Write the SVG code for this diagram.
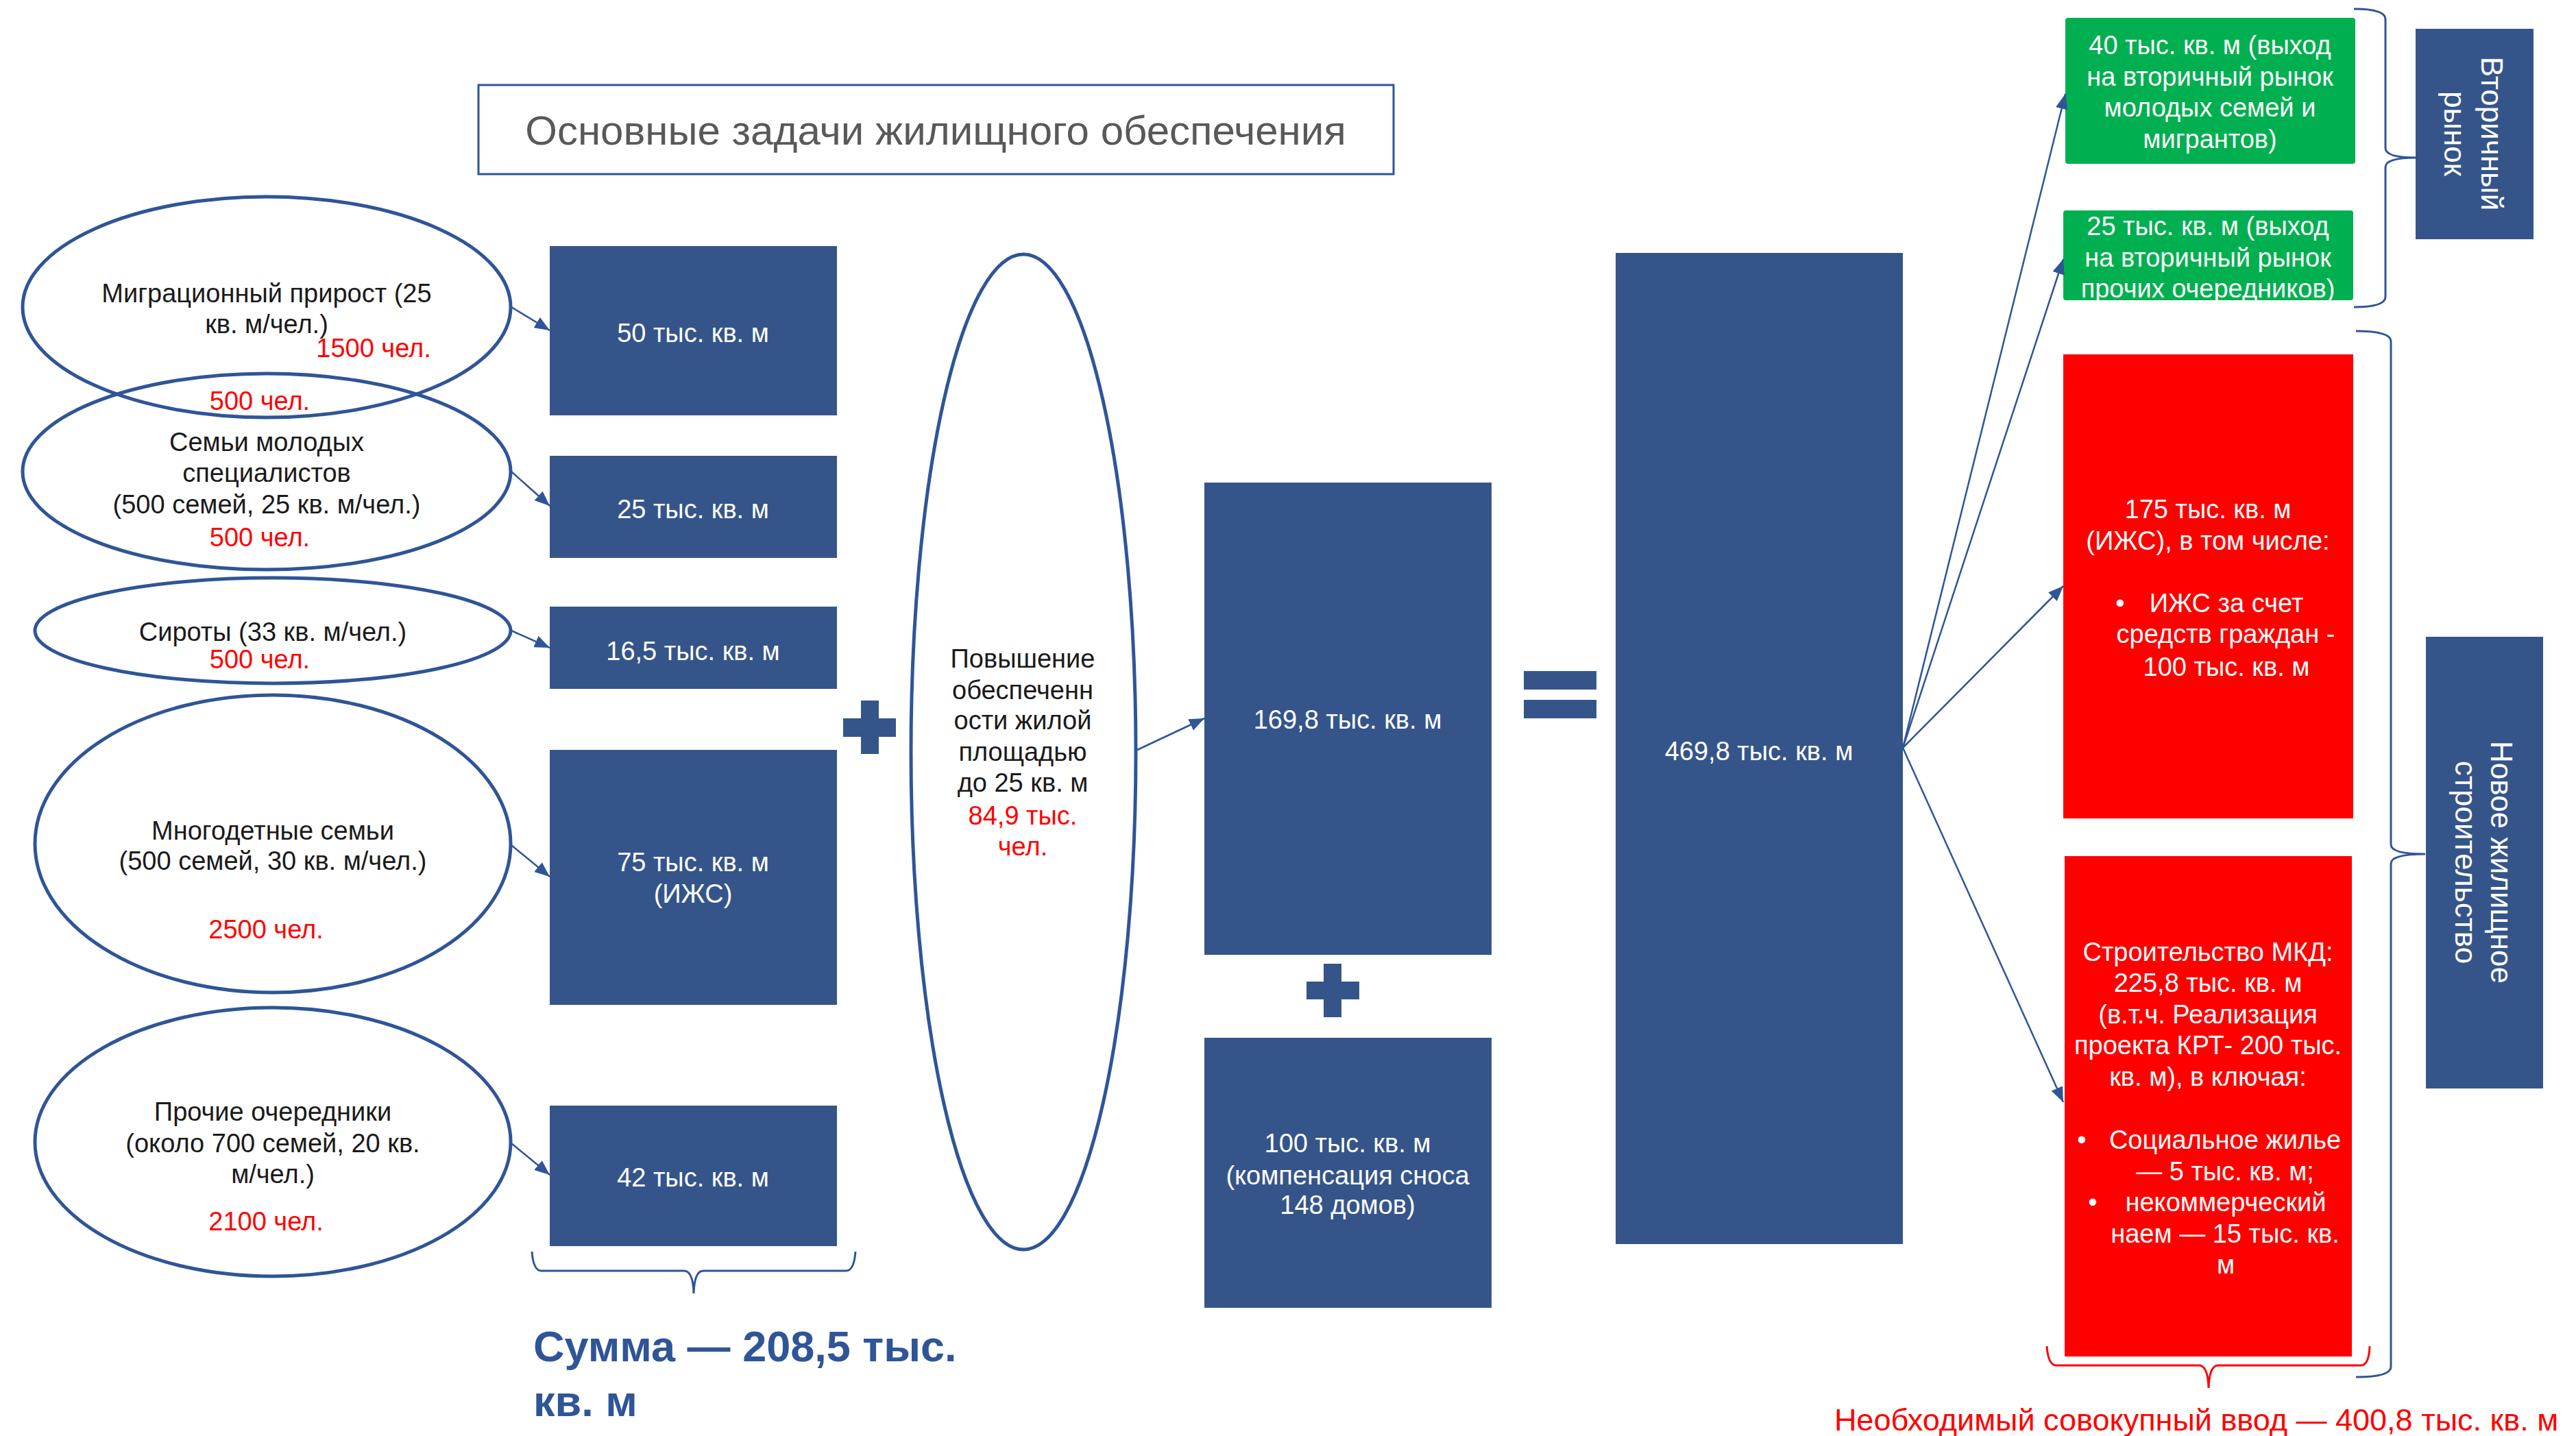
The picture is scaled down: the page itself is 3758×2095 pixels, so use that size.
<svg xmlns="http://www.w3.org/2000/svg" width="3758" height="2095" viewBox="0 0 3758 2095">
<defs>
<style>
.t{font-family:"Liberation Sans",Arial,sans-serif;font-size:38px;text-anchor:middle}
.dk{fill:#1a1a1a}
.rd{fill:#FF0000}
.wh{fill:#FFFFFF}
.box{fill:#35558A}
.grn{fill:#00B050}
.red{fill:#FF0000}
.ell{fill:#FFFFFF;stroke:#2F5597;stroke-width:5}
.ln{stroke:#2F5597;stroke-width:2.5;fill:none}
.br{stroke:#2F5597;stroke-width:3;fill:none}
.brr{stroke:#FF0000;stroke-width:3;fill:none}
.vt{font-family:"Liberation Sans",Arial,sans-serif;font-size:44px;text-anchor:middle;fill:#FFFFFF}
</style>
<marker id="ah" markerUnits="userSpaceOnUse" markerWidth="24" markerHeight="18" refX="22" refY="9" orient="auto">
<path d="M0,0 L22,9 L0,18 Z" fill="#2F5597"/>
</marker>
</defs>
<rect width="3758" height="2095" fill="#FFFFFF"/>

<g id="title">
<rect x="698" y="124" width="1335" height="130" fill="#FFFFFF" stroke="#2F5597" stroke-width="3"/>
<text x="1365" y="211" style="font-family:'Liberation Sans',Arial,sans-serif;font-size:60px;text-anchor:middle;fill:#595959">Основные задачи жилищного обеспечения</text>
</g>

<g id="ell-migr">
<ellipse class="ell" cx="389" cy="448" rx="356" ry="161"/>
<text class="t dk" x="389" y="441">Миграционный прирост (25</text>
<text class="t dk" x="389" y="486">кв. м/чел.)</text>
<text class="t rd" x="545" y="521">1500 чел.</text>
</g>

<g id="ell-young">
<ellipse class="ell" cx="389" cy="688" rx="356" ry="143" fill-opacity="0"/>
<text class="t rd" x="379" y="598">500 чел.</text>
<text class="t dk" x="389" y="658">Семьи молодых</text>
<text class="t dk" x="389" y="703">специалистов</text>
<text class="t dk" x="389" y="749">(500 семей, 25 кв. м/чел.)</text>
<text class="t rd" x="379" y="797">500 чел.</text>
</g>

<g id="ell-orph">
<ellipse class="ell" cx="398" cy="920" rx="347" ry="77"/>
<text class="t dk" x="398" y="935">Сироты (33 кв. м/чел.)</text>
<text class="t rd" x="379" y="975">500 чел.</text>
</g>

<g id="ell-large">
<ellipse class="ell" cx="398" cy="1231" rx="347" ry="217"/>
<text class="t dk" x="398" y="1225">Многодетные семьи</text>
<text class="t dk" x="398" y="1269">(500 семей, 30 кв. м/чел.)</text>
<text class="t rd" x="388" y="1369">2500 чел.</text>
</g>

<g id="ell-other">
<ellipse class="ell" cx="398" cy="1666" rx="347" ry="196"/>
<text class="t dk" x="398" y="1635">Прочие очередники</text>
<text class="t dk" x="398" y="1681">(около 700 семей, 20 кв.</text>
<text class="t dk" x="398" y="1726">м/чел.)</text>
<text class="t rd" x="388" y="1795">2100 чел.</text>
</g>

<g id="box-50">
<rect class="box" x="802" y="359" width="419" height="247"/>
<text class="t wh" x="1011" y="499">50 тыс. кв. м</text>
</g>
<g id="box-25">
<rect class="box" x="802" y="665" width="419" height="149"/>
<text class="t wh" x="1011" y="756">25 тыс. кв. м</text>
</g>
<g id="box-16">
<rect class="box" x="802" y="885" width="419" height="120"/>
<text class="t wh" x="1011" y="963">16,5 тыс. кв. м</text>
</g>
<g id="box-75">
<rect class="box" x="802" y="1094" width="419" height="372"/>
<text class="t wh" x="1011" y="1271">75 тыс. кв. м</text>
<text class="t wh" x="1011" y="1317">(ИЖС)</text>
</g>
<g id="box-42">
<rect class="box" x="802" y="1613" width="419" height="205"/>
<text class="t wh" x="1011" y="1731">42 тыс. кв. м</text>
</g>

<g id="sum-left">
<path class="br" d="M776,1826 Q778,1854 790,1854 L998,1854 Q1011,1854 1012,1887 Q1013,1854 1026,1854 L1234,1854 Q1246,1854 1248,1826"/>
<text x="778" y="1986" style="font-family:'Liberation Sans',Arial,sans-serif;font-size:63px;font-weight:bold;fill:#2F5597">Сумма — 208,5 тыс.</text>
<text x="778" y="2066" style="font-family:'Liberation Sans',Arial,sans-serif;font-size:63px;font-weight:bold;fill:#2F5597">кв. м</text>
</g>

<g id="plus-1">
<rect class="box" x="1230" y="1048" width="77" height="27"/>
<rect class="box" x="1256" y="1022" width="26" height="78"/>
</g>

<g id="ell-improve">
<ellipse class="ell" cx="1493" cy="1097" rx="164" ry="726"/>
<text class="t dk" x="1492" y="974">Повышение</text>
<text class="t dk" x="1492" y="1020">обеспеченн</text>
<text class="t dk" x="1492" y="1064">ости жилой</text>
<text class="t dk" x="1492" y="1110">площадью</text>
<text class="t dk" x="1492" y="1155">до 25 кв. м</text>
<text class="t rd" x="1492" y="1203">84,9 тыс.</text>
<text class="t rd" x="1492" y="1248">чел.</text>
</g>

<g id="box-169">
<rect class="box" x="1757" y="704" width="419" height="689"/>
<text class="t wh" x="1966" y="1063">169,8 тыс. кв. м</text>
</g>

<g id="plus-2">
<rect class="box" x="1906" y="1432" width="77" height="26"/>
<rect class="box" x="1931" y="1406" width="26" height="78"/>
</g>

<g id="box-100">
<rect class="box" x="1757" y="1514" width="419" height="394"/>
<text class="t wh" x="1966" y="1681">100 тыс. кв. м</text>
<text class="t wh" x="1966" y="1728">(компенсация сноса</text>
<text class="t wh" x="1966" y="1771">148 домов)</text>
</g>

<g id="equals">
<rect class="box" x="2223" y="979" width="106" height="27"/>
<rect class="box" x="2223" y="1021" width="106" height="27"/>
</g>

<g id="box-469">
<rect class="box" x="2357" y="369" width="419" height="1446"/>
<text class="t wh" x="2566" y="1109">469,8 тыс. кв. м</text>
</g>

<g id="green-40">
<rect class="grn" x="3013" y="26" width="423" height="213" rx="4"/>
<text class="t wh" x="3224" y="79">40 тыс. кв. м (выход</text>
<text class="t wh" x="3224" y="125">на вторичный рынок</text>
<text class="t wh" x="3224" y="170">молодых семей и</text>
<text class="t wh" x="3224" y="216">мигрантов)</text>
</g>

<g id="green-25">
<rect class="grn" x="3010" y="307" width="423" height="131" rx="4"/>
<text class="t wh" x="3221" y="343">25 тыс. кв. м (выход</text>
<text class="t wh" x="3221" y="389">на вторичный рынок</text>
<text class="t wh" x="3221" y="434">прочих очередников)</text>
</g>

<g id="red-175">
<rect class="red" x="3010" y="517" width="423" height="677"/>
<text class="t wh" x="3221" y="756">175 тыс. кв. м</text>
<text class="t wh" x="3221" y="802">(ИЖС), в том числе:</text>
<text class="t wh" x="3093" y="893">•</text>
<text class="t wh" x="3248" y="893">ИЖС за счет</text>
<text class="t wh" x="3247" y="938">средств граждан -</text>
<text class="t wh" x="3248" y="986">100 тыс. кв. м</text>
</g>

<g id="red-mkd">
<rect class="red" x="3012" y="1249" width="419" height="730"/>
<text class="t wh" x="3221" y="1402">Строительство МКД:</text>
<text class="t wh" x="3221" y="1447">225,8 тыс. кв. м</text>
<text class="t wh" x="3221" y="1493">(в.т.ч. Реализация</text>
<text class="t wh" x="3221" y="1538">проекта КРТ- 200 тыс.</text>
<text class="t wh" x="3221" y="1584">кв. м), в ключая:</text>
<text class="t wh" x="3037" y="1676">•</text>
<text class="t wh" x="3246" y="1676">Социальное жилье</text>
<text class="t wh" x="3246" y="1722">— 5 тыс. кв. м;</text>
<text class="t wh" x="3053" y="1767">•</text>
<text class="t wh" x="3247" y="1767">некоммерческий</text>
<text class="t wh" x="3246" y="1813">наем — 15 тыс. кв.</text>
<text class="t wh" x="3247" y="1858">м</text>
</g>

<g id="secondary-market">
<path class="br" d="M3434,13 Q3480,13 3480,28 L3480,216 Q3480,230 3525,230 Q3480,230 3480,244 L3480,433 Q3480,448 3434,448"/>
<rect class="box" x="3524" y="42" width="172" height="307"/>
<text class="vt" transform="translate(3620,195) rotate(90)">Вторичный</text>
<text class="vt" transform="translate(3566,195) rotate(90)">рынок</text>
</g>

<g id="new-construction">
<path class="br" d="M3437,483 Q3488,483 3488,498 L3488,1232 Q3488,1246 3538,1246 Q3488,1246 3488,1260 L3488,1994 Q3488,2009 3437,2009"/>
<rect class="box" x="3539" y="929" width="171" height="659"/>
<text class="vt" transform="translate(3634,1258) rotate(90)">Новое жилищное</text>
<text class="vt" transform="translate(3582,1258) rotate(90)">строительство</text>
</g>

<g id="total-new">
<path class="brr" d="M2986,1964 Q2988,1992 3000,1992 L3208,1992 Q3221,1992 3222,2025 Q3223,1992 3236,1992 L3444,1992 Q3456,1992 3457,1964"/>
<text x="3204" y="2087" style="font-family:'Liberation Sans',Arial,sans-serif;font-size:45px;text-anchor:middle;fill:#FF0000">Необходимый совокупный ввод — 400,8 тыс. кв. м</text>
</g>

<g id="connectors">
<line class="ln" x1="746" y1="448" x2="802" y2="482" marker-end="url(#ah)"/>
<line class="ln" x1="746" y1="688" x2="802" y2="738" marker-end="url(#ah)"/>
<line class="ln" x1="746" y1="920" x2="802" y2="945" marker-end="url(#ah)"/>
<line class="ln" x1="746" y1="1233" x2="802" y2="1279" marker-end="url(#ah)"/>
<line class="ln" x1="746" y1="1668" x2="802" y2="1714" marker-end="url(#ah)"/>
<line class="ln" x1="1657" y1="1095" x2="1757" y2="1048" marker-end="url(#ah)"/>
<line class="ln" x1="2776" y1="1091" x2="3013" y2="137" marker-end="url(#ah)"/>
<line class="ln" x1="2776" y1="1091" x2="3010" y2="378" marker-end="url(#ah)"/>
<line class="ln" x1="2776" y1="1091" x2="3010" y2="855" marker-end="url(#ah)"/>
<line class="ln" x1="2776" y1="1091" x2="3010" y2="1608" marker-end="url(#ah)"/>
</g>
</svg>
